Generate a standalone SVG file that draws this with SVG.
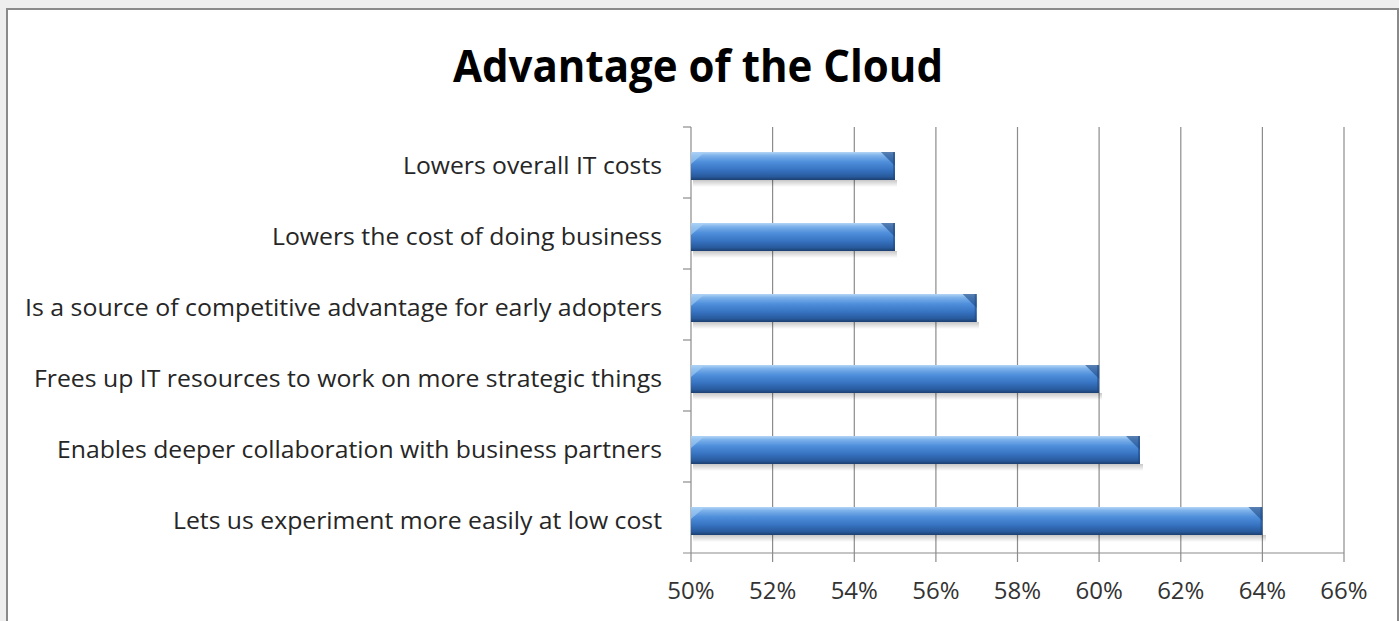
<svg xmlns="http://www.w3.org/2000/svg" width="1399" height="621" viewBox="0 0 1399 621">
<defs>
<linearGradient id="barG" x1="0" y1="0" x2="0" y2="1">
<stop offset="0" stop-color="#b5d6f6"/>
<stop offset="0.12" stop-color="#7fb3eb"/>
<stop offset="0.35" stop-color="#4f8fdb"/>
<stop offset="0.65" stop-color="#3672c0"/>
<stop offset="0.88" stop-color="#285a9c"/>
<stop offset="1" stop-color="#1c3f70"/>
</linearGradient>
<linearGradient id="shadowG" x1="0" y1="0" x2="0" y2="1">
<stop offset="0" stop-color="#000" stop-opacity="0.22"/>
<stop offset="1" stop-color="#000" stop-opacity="0"/>
</linearGradient>
</defs>
<style>
.lbl{font-family:"Open Sans","Liberation Sans",sans-serif;font-size:23px;fill:#262626;text-anchor:end}
.tick{font-family:"Open Sans","Liberation Sans",sans-serif;font-size:24px;fill:#333;text-anchor:middle}
.title{font-family:"Open Sans","Liberation Sans",sans-serif;font-size:45px;font-weight:bold;fill:#000}
.grid{stroke:#8c8c8c;stroke-width:1.2;fill:none}
.bar{fill:url(#barG)}
.shadow{fill:url(#shadowG)}
.capR{fill:#1f4a85;opacity:0.6}
.edgeR{fill:#1d4680;opacity:0.5}
.capL{fill:#a9d0f5;opacity:0.6}
</style>
<rect x="0" y="0" width="1399" height="621" fill="#eeeeee"/>
<rect x="7" y="9" width="1391" height="640" fill="#ffffff" stroke="#8a8a8a" stroke-width="2"/>
<text class="title" x="698" y="82" text-anchor="middle" textLength="490" lengthAdjust="spacingAndGlyphs">Advantage of the Cloud</text>

<g id="connectors">
<g class="grid">
<line x1="772.6" y1="127" x2="772.6" y2="562"/>
<line x1="854.3" y1="127" x2="854.3" y2="562"/>
<line x1="935.9" y1="127" x2="935.9" y2="562"/>
<line x1="1017.5" y1="127" x2="1017.5" y2="562"/>
<line x1="1099.1" y1="127" x2="1099.1" y2="562"/>
<line x1="1180.8" y1="127" x2="1180.8" y2="562"/>
<line x1="1262.4" y1="127" x2="1262.4" y2="562"/>
<line x1="1344" y1="127" x2="1344" y2="562"/>
<line x1="691" y1="127" x2="691" y2="562"/>
<line x1="683" y1="553" x2="1344" y2="553"/>
<line x1="683" y1="127" x2="691" y2="127"/>
<line x1="683" y1="198" x2="691" y2="198"/>
<line x1="683" y1="269" x2="691" y2="269"/>
<line x1="683" y1="340" x2="691" y2="340"/>
<line x1="683" y1="411" x2="691" y2="411"/>
<line x1="683" y1="482" x2="691" y2="482"/>
</g>
</g>

<g id="axis-labels">
<text class="tick" x="691" y="599">50%</text>
<text class="tick" x="772.6" y="599">52%</text>
<text class="tick" x="854.3" y="599">54%</text>
<text class="tick" x="935.9" y="599">56%</text>
<text class="tick" x="1017.5" y="599">58%</text>
<text class="tick" x="1099.1" y="599">60%</text>
<text class="tick" x="1180.8" y="599">62%</text>
<text class="tick" x="1262.4" y="599">64%</text>
<text class="tick" x="1344" y="599">66%</text>
</g>

<g id="cat1">
<rect class="shadow" x="693" y="180" width="204" height="7"/>
<rect class="bar" x="691" y="152" width="204" height="28"/>
<polygon class="capL" points="691,152 705,152 691,164"/>
<polygon class="capR" points="881,152 895,152 895,166"/>
<rect class="edgeR" x="893" y="152" width="2" height="28"/>
<text class="lbl" x="662" y="174" textLength="259" lengthAdjust="spacingAndGlyphs">Lowers overall IT costs</text>
</g>
<g id="cat2">
<rect class="shadow" x="693" y="251" width="204" height="7"/>
<rect class="bar" x="691" y="223" width="204" height="28"/>
<polygon class="capL" points="691,223 705,223 691,235"/>
<polygon class="capR" points="881,223 895,223 895,237"/>
<rect class="edgeR" x="893" y="223" width="2" height="28"/>
<text class="lbl" x="662" y="245" textLength="390" lengthAdjust="spacingAndGlyphs">Lowers the cost of doing business</text>
</g>
<g id="cat3">
<rect class="shadow" x="693" y="322" width="286" height="7"/>
<rect class="bar" x="691" y="294" width="285.7" height="28"/>
<polygon class="capL" points="691,294 705,294 691,306"/>
<polygon class="capR" points="962.7,294 976.7,294 976.7,308"/>
<rect class="edgeR" x="974.7" y="294" width="2" height="28"/>
<text class="lbl" x="662" y="316" textLength="637" lengthAdjust="spacingAndGlyphs">Is a source of competitive advantage for early adopters</text>
</g>
<g id="cat4">
<rect class="shadow" x="693" y="393" width="409" height="7"/>
<rect class="bar" x="691" y="365" width="408.1" height="28"/>
<polygon class="capL" points="691,365 705,365 691,377"/>
<polygon class="capR" points="1085.1,365 1099.1,365 1099.1,379"/>
<rect class="edgeR" x="1097.1" y="365" width="2" height="28"/>
<text class="lbl" x="662" y="387" textLength="628" lengthAdjust="spacingAndGlyphs">Frees up IT resources to work on more strategic things</text>
</g>
<g id="cat5">
<rect class="shadow" x="693" y="464" width="450" height="7"/>
<rect class="bar" x="691" y="436" width="449" height="28"/>
<polygon class="capL" points="691,436 705,436 691,448"/>
<polygon class="capR" points="1126,436 1140,436 1140,450"/>
<rect class="edgeR" x="1138" y="436" width="2" height="28"/>
<text class="lbl" x="662" y="458" textLength="605" lengthAdjust="spacingAndGlyphs">Enables deeper collaboration with business partners</text>
</g>
<g id="cat6">
<rect class="shadow" x="693" y="535" width="573" height="7"/>
<rect class="bar" x="691" y="507" width="571.4" height="28"/>
<polygon class="capL" points="691,507 705,507 691,519"/>
<polygon class="capR" points="1248.4,507 1262.4,507 1262.4,521"/>
<rect class="edgeR" x="1260.4" y="507" width="2" height="28"/>
<text class="lbl" x="662" y="529" textLength="489" lengthAdjust="spacingAndGlyphs">Lets us experiment more easily at low cost</text>
</g>
</svg>
